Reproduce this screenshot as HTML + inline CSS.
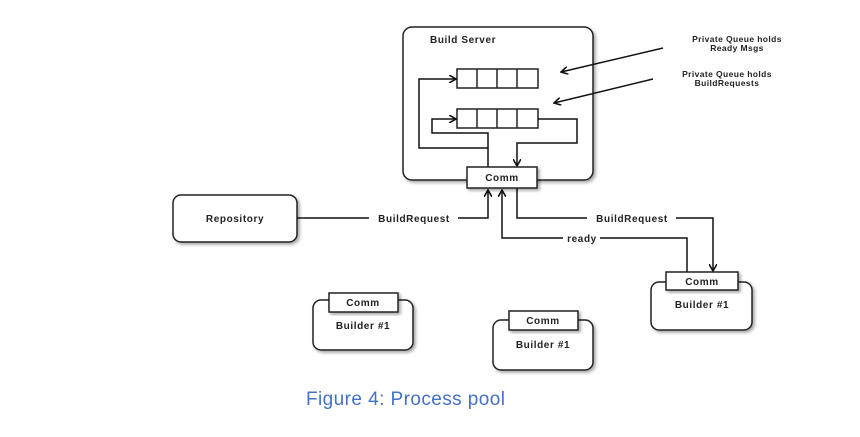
<!DOCTYPE html>
<html><head><style>
html,body{margin:0;padding:0;background:#fff;width:860px;height:437px;overflow:hidden}
svg text{font-family:"Liberation Sans",sans-serif;font-weight:bold;fill:#222}
</style></head><body>
<svg width="860" height="437" viewBox="0 0 860 437" xmlns="http://www.w3.org/2000/svg">
<defs>
<marker id="a" markerWidth="8" markerHeight="8" refX="7" refY="4" orient="auto" markerUnits="userSpaceOnUse"><path d="M0,0 L7,4 L0,8" fill="none" stroke="#111" stroke-width="1.6"/></marker>
<filter id="s" x="-10%" y="-10%" width="130%" height="130%"><feDropShadow dx="2" dy="2" stdDeviation="1.5" flood-color="#000" flood-opacity="0.35"/></filter>
</defs>
<g stroke="#222" stroke-width="1.5" fill="#fff">
<rect x="403" y="27" width="190" height="153" rx="9" filter="url(#s)"/>
<rect x="173" y="195" width="124" height="47" rx="8" filter="url(#s)"/>
<rect x="651" y="282" width="101" height="48" rx="8" filter="url(#s)"/>
<rect x="313" y="300" width="100" height="50" rx="8" filter="url(#s)"/>
<rect x="493" y="320" width="100" height="50" rx="8" filter="url(#s)"/>
</g>
<g stroke="#222" stroke-width="1.5" fill="#fff">
<rect x="457" y="69" width="81" height="19"/>
<line x1="477" y1="69" x2="477" y2="88"/><line x1="497" y1="69" x2="497" y2="88"/><line x1="517" y1="69" x2="517" y2="88"/>
<rect x="457" y="109" width="81" height="19"/>
<line x1="477" y1="109" x2="477" y2="128"/><line x1="497" y1="109" x2="497" y2="128"/><line x1="517" y1="109" x2="517" y2="128"/>
</g>
<g stroke="#111" stroke-width="1.5" fill="none">
<path d="M488,167 V148 H419 V79 H456" marker-end="url(#a)"/>
<path d="M488,148 V133 H432 V119 H456" marker-end="url(#a)"/>
<path d="M538,119 H577 V143 H517 V166" marker-end="url(#a)"/>
<path d="M297,218 H488 V190" marker-end="url(#a)"/>
<path d="M517,188 V218 H713 V271" marker-end="url(#a)"/>
<path d="M687,272 V238 H502 V190" marker-end="url(#a)"/>
<path d="M663,48 L561,72" marker-end="url(#a)"/>
<path d="M653,79 L554,103" marker-end="url(#a)"/>
</g>
<g stroke="#222" stroke-width="1.5" fill="#fff">
<rect x="467" y="167" width="70" height="21" filter="url(#s)"/>
<rect x="666" y="272" width="72" height="18" filter="url(#s)"/>
<rect x="329" y="293" width="69" height="19" filter="url(#s)"/>
<rect x="509" y="311" width="69" height="19" filter="url(#s)"/>
</g>
<g fill="#fff"><rect x="369" y="212" width="89" height="12"/><rect x="587" y="212" width="89" height="12"/><rect x="563" y="232" width="37" height="12"/></g>
<g font-size="10" style="letter-spacing:0.6px">
<text x="430" y="43">Build Server</text>
<text x="502" y="181" text-anchor="middle">Comm</text>
<text x="235" y="222" text-anchor="middle">Repository</text>
<text x="414" y="222" text-anchor="middle">BuildRequest</text>
<text x="632" y="222" text-anchor="middle">BuildRequest</text>
<text x="582" y="242" text-anchor="middle">ready</text>
<text x="702" y="285" text-anchor="middle">Comm</text>
<text x="702" y="308" text-anchor="middle">Builder #1</text>
<text x="363" y="306" text-anchor="middle">Comm</text>
<text x="363" y="329" text-anchor="middle">Builder #1</text>
<text x="543" y="324" text-anchor="middle">Comm</text>
<text x="543" y="348" text-anchor="middle">Builder #1</text>
</g>
<g font-size="8.5" text-anchor="middle" style="letter-spacing:0.4px">
<text x="737" y="42">Private Queue holds</text>
<text x="737" y="51">Ready Msgs</text>
<text x="727" y="77">Private Queue holds</text>
<text x="727" y="86">BuildRequests</text>
</g>
<text x="306" y="405" font-size="19" textLength="199" style="font-weight:normal;fill:#4472C4">Figure 4: Process pool</text>
</svg>
</body></html>
